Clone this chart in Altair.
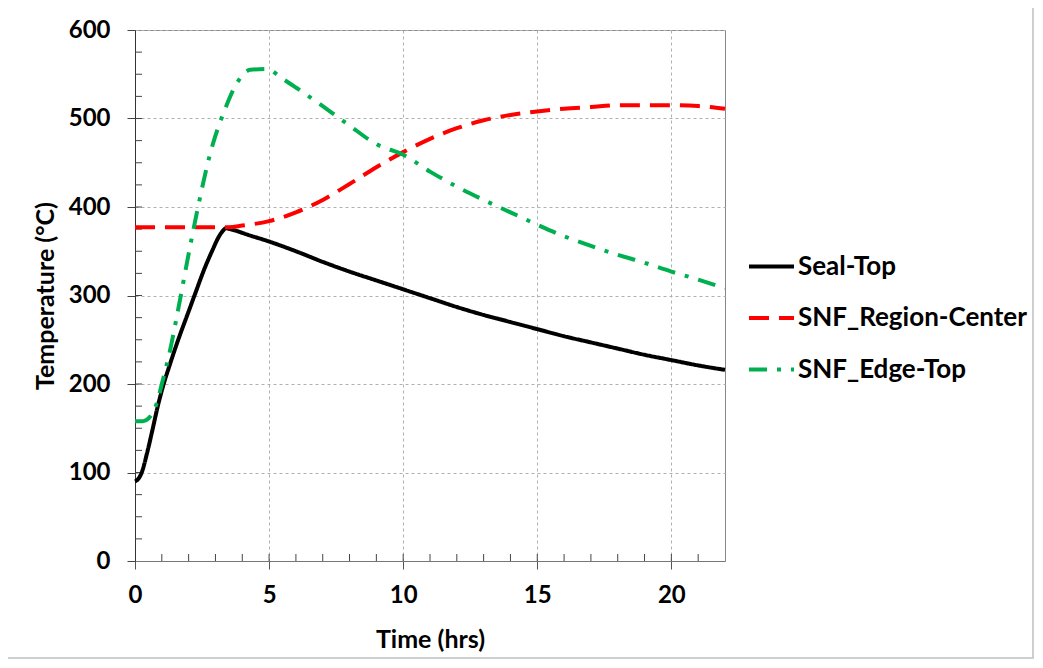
import altair as alt
import pandas as pd

# ---- data ----
seal_t = [0, 0.1, 0.25, 0.45, 0.65, 0.85, 1.05, 1.3, 1.6, 2.0, 2.23, 2.6, 2.9, 3.1, 3.25, 3.4, 3.55,
          4.27, 5, 6, 7, 8, 9, 10, 11, 12, 13, 14, 15, 16, 17, 18, 19, 20, 21, 22]
seal_v = [90, 92, 100, 122, 148, 175, 198, 222, 249, 282, 301, 331, 352, 365, 372, 376, 375,
          368, 361, 350, 338, 327, 317, 307, 297, 287, 278, 270, 262, 254, 247, 240, 233, 227, 221, 216]

region_t = [0, 1, 2, 3, 3.5, 4, 5, 6, 7, 8, 9, 10, 11, 12, 13, 14, 15, 16, 17, 18, 19, 20, 21, 22]
region_v = [377, 377, 377, 377, 377, 379, 384, 394, 408, 426, 445, 462, 477, 489, 498, 504, 508,
            511, 513, 515, 515, 515, 514, 511]

edge_t = [0, 0.3, 0.5, 0.65, 0.83, 1.0, 1.3, 1.64, 2.0, 2.35, 2.8, 3.35, 3.8, 4.3, 4.9, 5.5, 6, 7,
          7.5, 8, 9, 10, 11, 12, 13, 14, 15, 16, 17, 18, 19, 20, 21, 22]
edge_v = [158, 158, 161, 167, 180, 200, 237, 289, 347, 400, 460, 510, 540, 555, 556, 545, 535, 514,
          503, 492, 471, 459, 440, 423, 408, 394, 380, 367, 356, 346, 337, 327, 318, 308]

series_names = ["Seal-Top", "SNF_Region-Center", "SNF_Edge-Top"]
series_colors = ["#000000", "#ff0000", "#00b050"]
series_dash = [[1, 0], [20, 10], [18, 10, 4, 10]]

x_minor = list(range(1, 22))
y_minor = [v for v in range(25, 600, 25)]

rows = []
for name, ts, vs in zip(series_names, [seal_t, region_t, edge_t], [seal_v, region_v, edge_v]):
    for t, v in zip(ts, vs):
        rows.append({"series": name, "t": t, "v": v})
df = pd.DataFrame(rows)

W, H = 590, 531
FONT = "Lato"

xscale = alt.Scale(domain=[0, 22], nice=False, zero=False)
yscale = alt.Scale(domain=[0, 600], nice=False)

leg = alt.Legend(title=None, orient="none", legendX=612, legendY=212)

lines = alt.Chart(df).mark_line(strokeWidth=4, interpolate="monotone").encode(
    x=alt.X("t:Q", scale=xscale, title="Time (hrs)",
            axis=alt.Axis(values=[0, 5, 10, 15, 20], grid=True, gridDash=[3, 3], gridColor="#b0b0b0",
                          tickSize=8, tickColor="#555", domainColor="#777", labelPadding=14,
                          labelFlush=False, titlePadding=20)),
    y=alt.Y("v:Q", scale=yscale, title="Temperature (°C)",
            axis=alt.Axis(values=[0, 100, 200, 300, 400, 500, 600], grid=True, gridDash=[3, 3],
                          gridColor="#b0b0b0", tickSize=8, tickColor="#444", domainColor="#333",
                          labelPadding=17, labelFlush=False, titlePadding=10)),
    color=alt.Color("series:N", scale=alt.Scale(domain=series_names, range=series_colors), legend=leg),
    strokeDash=alt.StrokeDash("series:N", scale=alt.Scale(domain=series_names, range=series_dash),
                              legend=leg),
    detail="series:N",
    order="t:Q",
)

xminor = alt.Chart(pd.DataFrame({"t": x_minor})).mark_rule(color="#444", strokeWidth=1).encode(
    x=alt.X("t:Q", scale=xscale), y=alt.value(H), y2=alt.value(H - 7))
yminor = alt.Chart(pd.DataFrame({"v": y_minor})).mark_rule(color="#444", strokeWidth=1).encode(
    y=alt.Y("v:Q", scale=yscale), x=alt.value(0), x2=alt.value(7))

frame = alt.Chart(pd.DataFrame({"a": [0]})).mark_rect(fill=None, stroke="#c0c0c0", strokeWidth=1.5).encode(
    x=alt.value(-128), x2=alt.value(898), y=alt.value(-24), y2=alt.value(628))

chart = alt.layer(frame, xminor, yminor, lines).properties(
    width=W, height=H,
    padding={"left": 127, "top": 22, "right": 309, "bottom": 98},
    autosize="none",
).configure_view(stroke="#888", strokeWidth=1).configure_axis(
    labelFont=FONT, labelFontWeight="bold", labelFontSize=24, labelColor="#000",
    titleFont=FONT, titleFontWeight="bold", titleFontSize=25, titleColor="#000",
).configure_legend(
    labelFont=FONT, labelFontWeight="bold", labelFontSize=26, labelColor="#000",
    symbolType="stroke", symbolSize=2025, symbolStrokeWidth=4, rowPadding=13.5, labelOffset=2,
    labelLimit=0,
)

chart.save("out.html", embed_options={"renderer": "svg", "actions": False})
